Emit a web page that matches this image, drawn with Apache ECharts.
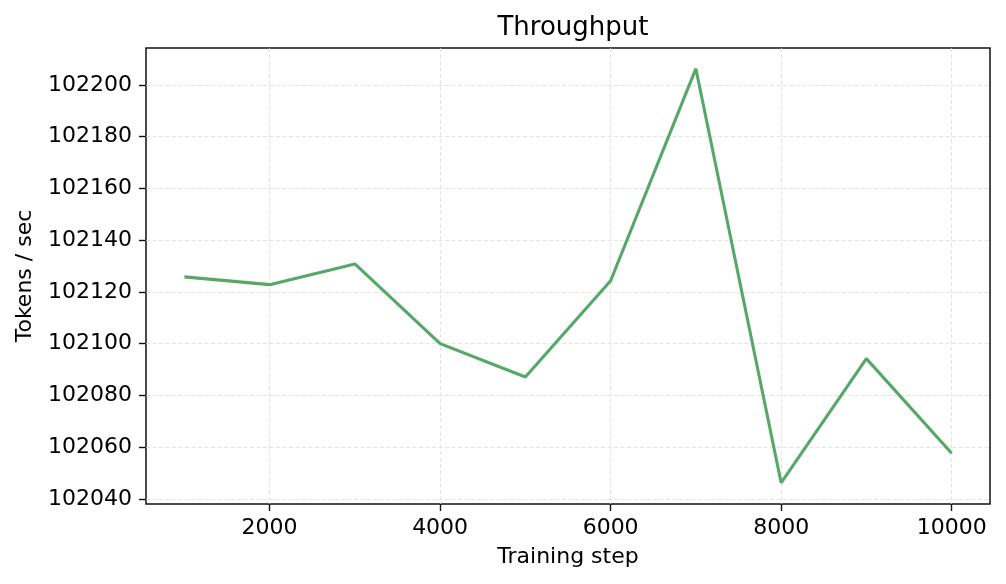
<!DOCTYPE html>
<html>
<head>
<meta charset="utf-8">
<script src="https://cdn.jsdelivr.net/npm/echarts@6/dist/echarts.min.js"></script>
<style>
  html, body { margin: 0; padding: 0; background: #fff; }
  #chart { width: 1006px; height: 584px; }
</style>
</head>
<body>
<div id="chart"></div>
<script>
// data
var steps = [1000, 2000, 3000, 4000, 5000, 6000, 7000, 8000, 9000, 10000];
var tokensPerSec = [102125.8, 102122.8, 102130.8, 102100.0, 102087.1, 102124.3, 102206.3, 102046.2, 102094.2, 102057.6];
var xTicks = [2000, 4000, 6000, 8000, 10000];
var yTicks = [102040, 102060, 102080, 102100, 102120, 102140, 102160, 102180, 102200];

var font = 'DejaVu Sans';
var chart = echarts.init(document.getElementById('chart'));

var gridLine = { show: true, lineStyle: { color: '#dcdcdc', type: [4, 2.5], width: 0.8 } };

var option = {
    animation: false,
    backgroundColor: '#fff',
    title: {
        text: 'Throughput',
        left: 568,
        top: 10,
        textAlign: 'center',
        textStyle: { fontFamily: font, fontSize: 26, fontWeight: 'normal', color: '#000' }
    },
    grid: {
        left: 146, right: 16, top: 48, bottom: 80,
        show: true,
        borderColor: '#111',
        borderWidth: 1.5,
        backgroundColor: 'transparent'
    },
    xAxis: {
        type: 'value',
        min: 550,
        max: 10450,
        name: 'Training step',
        nameLocation: 'middle',
        nameGap: 42,
        nameTextStyle: { fontFamily: font, fontSize: 22, color: '#000' },
        axisLine: { show: false },
        axisTick: { show: true, length: 7, customValues: xTicks,
            lineStyle: { color: '#111', width: 1.4 } },
        axisLabel: { customValues: xTicks, margin: 13,
            fontFamily: font, fontSize: 22, color: '#000',
            formatter: function (v) { return String(v); } },
        splitLine: gridLine
    },
    yAxis: {
        type: 'value',
        min: 102038,
        max: 102214.3,
        name: 'Tokens / sec',
        nameLocation: 'middle',
        nameGap: 110,
        nameTextStyle: { fontFamily: font, fontSize: 22, color: '#000' },
        axisLine: { show: false },
        axisTick: { show: true, length: 7, customValues: yTicks,
            lineStyle: { color: '#111', width: 1.4 } },
        axisLabel: { customValues: yTicks, margin: 14,
            fontFamily: font, fontSize: 22, color: '#000',
            formatter: function (v) { return String(v); } },
        splitLine: gridLine
    },
    series: [{
        type: 'line',
        data: steps.map(function (s, i) { return [s, tokensPerSec[i]]; }),
        showSymbol: false,
        lineStyle: { color: '#55a868', width: 3.1 },
        itemStyle: { color: '#55a868' }
    }]
};

chart.setOption(option);
window.onresize = chart.resize;
</script>
</body>
</html>
